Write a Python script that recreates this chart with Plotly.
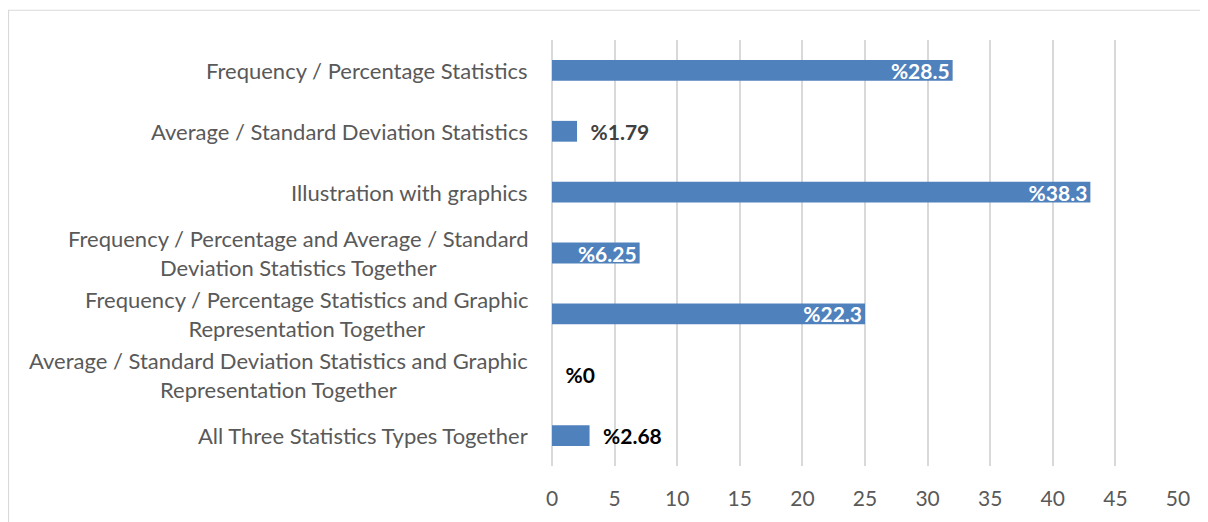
import plotly.graph_objects as go

categories = [
    "Frequency / Percentage Statistics",
    "Average / Standard Deviation Statistics",
    "Illustration with graphics",
    "Frequency / Percentage and Average / Standard<br>Deviation Statistics Together",
    "Frequency / Percentage Statistics and Graphic<br>Representation Together",
    "Average / Standard Deviation Statistics and Graphic<br>Representation Together",
    "All Three Statistics Types Together",
]
counts = [32, 2, 43, 7, 25, 0, 3]
labels = ["%28.5", "%1.79", "%38.3", "%6.25", "%22.3", "%0", "%2.68"]
x_ticks = [0, 5, 10, 15, 20, 25, 30, 35, 40, 45, 50]

FONT = "Lato, Carlito, Calibri, sans-serif"
BAR = "#4F81BD"
GRID = "#D9D9D9"

inside = [c >= 7 for c in counts]
positions = ["inside" if i else "outside" for i in inside]
shown = [l if i else "\u2002" + l for l, i in zip(labels, inside)]
out_colors = ["#000", "#404040", "#000", "#000", "#000", "#000", "#000"]

fig = go.Figure()
fig.add_trace(go.Bar(
    x=counts, y=categories, orientation="h",
    marker=dict(color=BAR, line=dict(width=0)),
    text=shown, textposition=positions, constraintext="none",
    insidetextanchor="end",
    insidetextfont=dict(family=FONT, size=21, color="white", weight="bold"),
    outsidetextfont=dict(family=FONT, size=21, color=out_colors, weight="bold"),
    cliponaxis=False,
    hoverinfo="skip",
))

for c in categories:
    fig.add_annotation(
        x=0, y=c, xref="x", yref="y", text=c, showarrow=False,
        xanchor="right", yanchor="middle", align="center", xshift=-22,
        font=dict(family=FONT, size=22, color="#595959"),
    )

# chart-area frame (left and top edges visible in the reference)
fig.add_shape(type="path", xref="paper", yref="paper",
              path="M -0.8682,-0.3 L -0.8682,1.0698 L 1.2,1.0698",
              line=dict(color=GRID, width=1.2), layer="below")

fig.update_layout(
    width=1200, height=514,
    margin=dict(l=544, r=30, t=32, b=52),
    paper_bgcolor="white", plot_bgcolor="white",
    bargap=0.658, showlegend=False,
    font=dict(family=FONT),
    xaxis=dict(range=[0, 50], tickvals=x_ticks, showgrid=True, gridcolor=GRID, gridwidth=1.5,
               zeroline=True, zerolinecolor=GRID, zerolinewidth=1.5, showline=False,
               ticks="", ticklabelstandoff=18,
               tickfont=dict(family=FONT, size=21, color="#595959")),
    yaxis=dict(autorange="reversed", showticklabels=False, showgrid=False, zeroline=False,
               showline=False, ticks=""),
)

fig.write_html("out.html")
